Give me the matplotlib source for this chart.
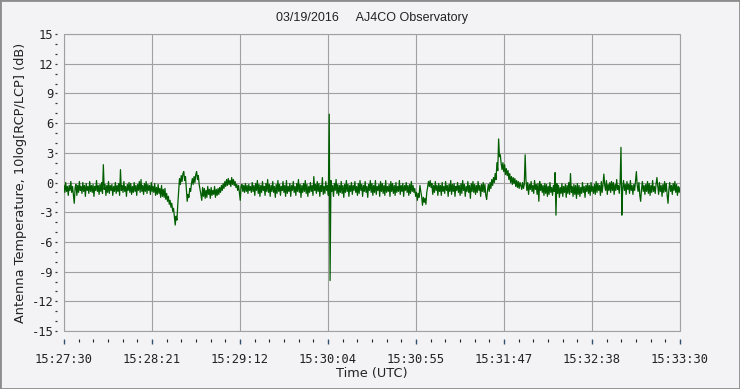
import numpy as np
import matplotlib
matplotlib.use("Agg")
import matplotlib.pyplot as plt
from matplotlib.patches import Rectangle
from matplotlib.ticker import FixedLocator, MultipleLocator

title = "03/19/2016     AJ4CO Observatory"
x_label = "Time (UTC)"
y_label = "Antenna Temperature, 10log[RCP/LCP] (dB)"
x_tick_labels = ["15:27:30", "15:28:21", "15:29:12", "15:30:04",
                 "15:30:55", "15:31:47", "15:32:38", "15:33:30"]
y_ticks = [-15, -12, -9, -6, -3, 0, 3, 6, 9, 12, 15]
span_seconds = 360          # 15:27:30 -> 15:33:30
sample_step = 0.5           # seconds between samples

# 10log(RCP/LCP) in dB, two samples per second from 15:27:30 (one row = 10 s)
db = [
    -0.3, -1.0, 0.0, -0.9, -0.4, -1.3, -0.3, -0.8, 0.1, -1.0, -0.4, -1.2, -2.1, -0.5, -0.2, -1.3, -0.3, -1.0, 0.1, -0.8,
    -0.4, -1.1, 0.0, -0.9, -0.3, -1.4, -0.1, -0.8, -0.4, -1.1, 0.1, -0.9, -0.3, -1.0, -0.2, -1.4, -0.4, -0.8, 0.2, -0.9,
    -0.3, -1.2, -0.2, -0.9, 0.0, -1.1, 1.8, -0.7, -0.2, -1.3, -0.3, -1.0, 0.1, -1.1, -0.3, -0.8, -0.2, -1.3, -0.4, -0.9,
    0.0, -1.1, -0.3, -0.9, -0.1, -1.3, 1.3, -0.8, -0.3, -1.0, 0.1, -0.9, -0.4, -1.4, -0.2, -0.8, 0.0, -1.0, -0.1, -1.2,
    -0.4, -1.0, 0.0, -0.9, -0.3, -1.3, -0.2, -0.8, 0.1, -1.0, 0.3, -0.9, -0.3, -1.2, -0.1, -0.9, 0.1, -1.1, -0.2, -0.8,
    -0.3, -1.2, 0.0, -0.9, -0.4, -1.0, -0.1, -1.3, -0.5, -1.2, -0.2, -1.1, -0.6, -1.5, -0.3, -1.4, -0.7, -1.5, -0.6, -1.7,
    -1.1, -1.9, -1.4, -2.2, -1.8, -2.5, -2.1, -2.9, -2.6, -3.5, -4.3, -3.4, -3.8, -2.2, -0.9, 0.4, -0.2, 0.7, 0.1, 0.9,
    1.1, 0.2, 0.6, -0.6, -1.9, -1.2, -1.5, -0.6, -0.9, -0.1, 0.4, -0.2, 0.6, 0.0, 0.8, 1.1, 0.3, 0.7, -0.2, -0.7,
    -1.2, -1.8, -0.5, -1.4, -0.6, -1.6, -0.8, -1.5, -0.4, -1.2, -0.7, -1.6, -0.5, -1.3, -0.8, -1.2, -0.4, -1.5, -0.7, -1.3,
    -0.6, -1.2, -0.5, -1.0, -0.3, -0.8, -0.1, -0.6, 0.1, -0.4, 0.3, -0.3, 0.4, -0.2, 0.2, -0.4, 0.5, -0.2, 0.3, -0.3,
    0.1, -0.5, -0.2, -0.8, -0.3, -1.0, -1.8, -0.4, -0.2, -0.9, -0.3, -1.0, -0.1, -0.9, -0.3, -1.1, -0.2, -0.8, -0.4, -1.0,
    0.0, -0.9, -0.3, -1.3, -0.1, -0.8, 0.2, -1.1, -0.2, -1.4, -0.3, -1.0, 0.1, -0.8, -0.4, -1.3, -0.1, -0.9, 0.3, -1.0,
    -0.2, -1.4, -0.3, -0.9, 0.1, -1.0, -0.4, -1.5, -0.2, -1.1, 0.2, -0.9, -0.2, -1.3, -0.4, -0.8, 0.1, -1.0, -0.3, -1.4,
    0.2, -1.1, -0.4, -0.9, -0.1, -1.4, -0.3, -0.8, 0.1, -1.0, -0.4, -1.3, -0.1, -0.9, 0.3, -1.0, -0.2, -1.5, -0.3, -1.0,
    -0.1, -0.9, 0.2, -1.1, -0.2, -1.4, -0.4, -1.0, 0.0, -0.9, -0.3, -1.3, 0.6, -0.8, -0.2, -1.1, 0.1, -0.9, -0.1, -1.4,
    -0.3, -0.9, 0.5, -1.2, -0.4, -1.1, 0.1, -0.8, -0.3, -1.3, 6.9, -9.9, 0.2, -0.9, -0.3, -1.4, -0.1, -0.8, 0.3, -1.1,
    -0.2, -1.3, -0.3, -1.0, 0.1, -1.1, -0.3, -1.5, -0.2, -1.0, 0.2, -0.9, -0.2, -1.4, -0.3, -0.9, 0.0, -1.2, -0.3, -0.8,
    0.1, -1.0, -0.4, -1.3, -0.1, -1.1, 0.2, -0.8, -0.2, -1.4, -0.3, -0.9, 0.1, -1.0, -0.4, -1.5, -0.2, -0.8, 0.2, -1.0,
    -0.1, -1.3, -0.3, -1.0, 0.2, -1.2, -0.4, -0.8, -0.2, -1.4, 0.1, -0.9, -0.1, -1.1, -0.3, -1.3, 0.2, -1.0, -0.4, -0.9,
    -0.2, -1.4, 0.1, -0.9, -0.1, -1.1, -0.3, -1.3, 0.0, -1.0, -0.4, -0.9, 0.2, -1.2, -0.3, -0.9, -0.1, -1.4, -0.3, -0.8,
    0.0, -1.0, -0.3, -1.3, -0.2, -1.1, 0.1, -0.9, -0.3, -1.0, -0.6, -1.4, -1.0, -1.8, -1.1, -1.5, -0.3, -0.9, -1.4, -2.3,
    -1.5, -2.0, -1.6, -2.2, -1.0, -0.5, 0.1, -0.4, 0.2, -0.5, -0.1, -1.2, -0.3, -1.0, 0.1, -0.8, -0.3, -1.3, -0.1, -0.9,
    -0.3, -1.3, 0.0, -0.9, -0.4, -1.1, 0.1, -0.8, -0.3, -1.4, -0.2, -0.9, 0.2, -1.2, -0.2, -0.9, -0.1, -1.4, -0.4, -0.8,
    0.0, -1.0, -0.3, -1.3, -0.1, -1.1, 0.2, -0.8, -0.2, -1.4, -0.4, -0.9, 0.1, -1.0, -0.3, -1.6, -0.1, -0.9, 0.1, -1.0,
    -0.2, -1.2, -0.3, -1.0, 0.1, -0.8, -0.3, -1.4, -0.2, -0.9, 0.0, -1.0, -0.2, -1.3, -1.7, -0.8, -0.2, -0.9, 0.0, -0.6,
    0.3, -0.3, 0.5, 0.0, 0.9, 0.3, 2.0, 1.2, 4.4, 2.6, 2.8, 1.9, 1.3, 2.0, 1.1, 1.8, 0.8, 1.4, 0.7, 1.2,
    0.3, 0.9, 0.0, 0.6, -0.2, 0.5, -0.1, 0.4, -0.4, 0.2, -0.5, 0.1, -0.6, 0.0, -0.3, -0.7, 0.0, -0.6, -0.2, 2.8,
    0.2, -0.8, 0.0, -1.2, -0.2, -0.7, 0.1, -0.9, -0.3, -1.1, 0.2, -0.7, -0.2, -1.2, -0.1, -1.9, 0.1, -0.8, -0.2, -1.0,
    -0.3, -1.3, -0.1, -1.1, -0.2, -1.4, -0.4, -1.2, 0.0, -1.0, -0.5, -1.3, -0.3, -0.9, 1.0, -3.3, -0.1, -1.1, -0.3, -1.5,
    -0.5, -1.1, -0.1, -1.4, -0.4, -1.0, -0.2, -1.5, -0.3, -1.1, 0.0, -1.2, 0.9, -1.0, -0.4, -1.4, -0.2, -1.2, -0.3, -1.6,
    -0.1, -1.2, -0.3, -1.4, -0.5, -1.1, 0.0, -1.0, -0.4, -1.5, -0.3, -0.9, -0.1, -1.1, -0.3, -1.3, 0.0, -0.9, -0.4, -1.1,
    -0.2, -1.2, 0.1, -1.0, -0.1, -0.8, -0.3, -1.3, 0.1, -1.0, -0.2, 0.85, -0.3, -0.8, 0.2, -1.2, -0.2, -0.8, 0.0, -1.0,
    0.1, -0.8, 0.0, -1.2, -0.2, -0.8, 0.3, -0.7, -0.3, -1.1, -0.1, 3.55, -3.3, -0.6, 0.2, -0.8, -0.2, -1.2, 0.1, -0.7,
    -0.2, -1.1, 0.2, -0.8, -0.3, -1.2, -0.2, -0.8, 0.1, 1.1, -0.3, -0.9, 0.0, -1.3, -1.9, -0.7, 0.1, -0.9, -0.3, -1.2,
    -0.2, -0.9, 0.1, -1.1, -0.1, -1.3, -0.3, -1.0, 0.2, -0.9, -0.4, -1.1, -0.2, 0.5, -0.3, -1.2, 0.0, -0.9, -0.3, -1.4,
    -0.2, -1.0, 0.1, -0.9, -0.1, -1.3, -2.1, -0.7, 0.0, -0.9, -0.3, -1.2, -0.1, -0.8, 0.1, -1.0, -0.2, -1.3, -0.4, -1.0,
    -0.5,
]

t = np.arange(len(db)) * sample_step

plt.rcParams["axes.unicode_minus"] = False
bg = "#F3F3F5"
fig = plt.figure(figsize=(7.4, 3.89), dpi=100, facecolor=bg)
ax = fig.add_axes([64 / 740, 1 - 331 / 389, 616 / 740, 297 / 389], facecolor=bg)

ax.plot(t, db, color="#005E00", lw=0.9, zorder=3)

ax.set_xlim(0, span_seconds)
ax.set_ylim(-15, 15)

major_x = [span_seconds * k / 7 for k in range(8)]
minor_x = [span_seconds * k / 42 for k in range(43)]
ax.xaxis.set_major_locator(FixedLocator(major_x))
ax.xaxis.set_minor_locator(FixedLocator(minor_x))
ax.set_xticklabels(x_tick_labels)
ax.yaxis.set_major_locator(FixedLocator(y_ticks))
ax.yaxis.set_minor_locator(MultipleLocator(1))

for s in ax.spines.values():
    s.set_color("none")
ax.spines["left"].set_position(("outward", 5))
ax.spines["bottom"].set_position(("outward", 6))

ax.grid(True, which="major", color="#A0A0A0", lw=0.8, zorder=1)
ax.add_patch(Rectangle((0, 0), 1, 1, transform=ax.transAxes, fill=False,
                       ec="#A0A0A0", lw=0.8, clip_on=False, zorder=2))

ax.tick_params(axis="x", which="major", direction="out", length=3.8, width=1,
               color="#34506E", pad=6, labelsize=8.7, labelcolor="#222222")
ax.tick_params(axis="x", which="minor", direction="out", length=2, width=0.8,
               color="#222222")
ax.tick_params(axis="y", which="major", direction="out", length=1.2, width=0.9,
               color="#333333", pad=1.5, labelsize=8.7, labelcolor="#222222")
ax.tick_params(axis="y", which="minor", direction="out", length=1.2, width=0.9,
               color="#333333")
for lab in ax.get_xticklabels() + ax.get_yticklabels():
    lab.set_fontfamily("DejaVu Sans Mono")

ax.set_xlabel(x_label, family="DejaVu Sans", size=9.3, color="#222222", labelpad=1)
ax.set_ylabel(y_label, family="DejaVu Sans", size=9.3, color="#222222", labelpad=3)
fig.text(372 / 740, 1 - 18 / 389, title, ha="center", va="center",
         family="Liberation Sans", size=9, color="#222222")

fig.patches.append(Rectangle((0, 0), 1, 1, transform=fig.transFigure, fill=False,
                             ec="#8C8C8C", lw=2.0))

fig.savefig("out.png", dpi=100, facecolor=bg)
